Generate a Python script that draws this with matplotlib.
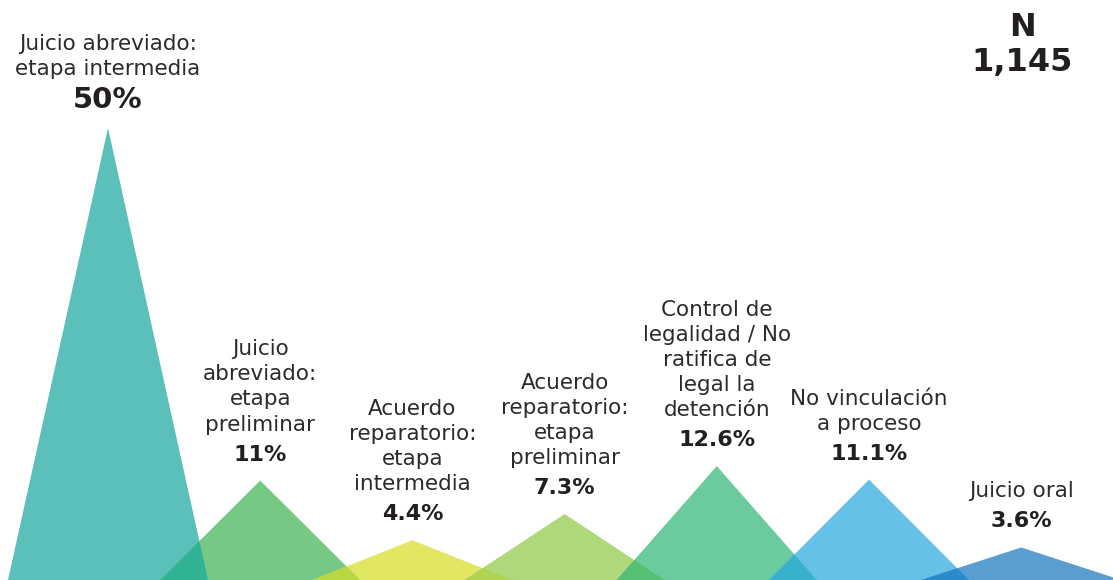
import matplotlib
matplotlib.use("Agg")
from matplotlib import pyplot as plt
from matplotlib.patches import Polygon

# data
categories = [
  "Juicio abreviado:\netapa intermedia",
  "Juicio\nabreviado:\netapa\npreliminar",
  "Acuerdo\nreparatorio:\netapa\nintermedia",
  "Acuerdo\nreparatorio:\netapa\npreliminar",
  "Control de\nlegalidad / No\nratifica de\nlegal la\ndetención",
  "No vinculación\na proceso",
  "Juicio oral",
]
values = [50, 11, 4.4, 7.3, 12.6, 11.1, 3.6]
value_labels = ["50%", "11%", "4.4%", "7.3%", "12.6%", "11.1%", "3.6%"]
n_total = "1,145"

colors = ["#5BC0B9", "#76C984", "#E1E763", "#AED87A", "#6BCB9E", "#65C1E8", "#5A9DD1"]
overlap_colors = ["#30B294", "#B8D744", "#B0D452", "#55BF74", "#38B2CC", "#2A8BCB"]

W, H = 1113, 580
fig = plt.figure(figsize=(W / 100, H / 100), dpi=100)
ax = fig.add_axes([0, 0, 1, 1])
ax.set_xlim(0, W)
ax.set_ylim(0, H)
ax.axis("off")

scale = 452 / 50.0   # px per percent
half_w = 100
x0, step = 108, 152.2
text_col = "#231F20"

patches = []
for i, v in enumerate(values):
  xc = x0 + i * step
  tri = Polygon([[xc - half_w, 0], [xc, v * scale], [xc + half_w, 0]],
                closed=True, facecolor=colors[i], edgecolor="none", zorder=1)
  ax.add_patch(tri)
  patches.append(tri)

# darker colour where neighbours overlap
for i in range(len(values) - 1):
  xc = x0 + i * step
  v = values[i]
  ov = Polygon([[xc - half_w, 0], [xc, v * scale], [xc + half_w, 0]],
               closed=True, facecolor=overlap_colors[i], edgecolor="none", zorder=2)
  ax.add_patch(ov)
  ov.set_clip_path(patches[i + 1])

for i, v in enumerate(values):
  xc = x0 + i * step
  top = v * scale
  big = (i == 0)
  ax.text(xc, top + 20, value_labels[i], ha="center", va="baseline",
          fontsize=21 if big else 16, fontweight="bold", color=text_col)
  ax.text(xc, top + (49 if big else 46), categories[i], ha="center", va="bottom",
          fontsize=15.5, color="#2b2b2b", linespacing=1.32)

ax.text(1022, H - 27, "N", ha="center", va="center", fontsize=23, fontweight="bold", color=text_col)
ax.text(1022, H - 62, n_total, ha="center", va="center", fontsize=23, fontweight="bold", color=text_col)

plt.savefig("out.png", dpi=100)
plt.close()
